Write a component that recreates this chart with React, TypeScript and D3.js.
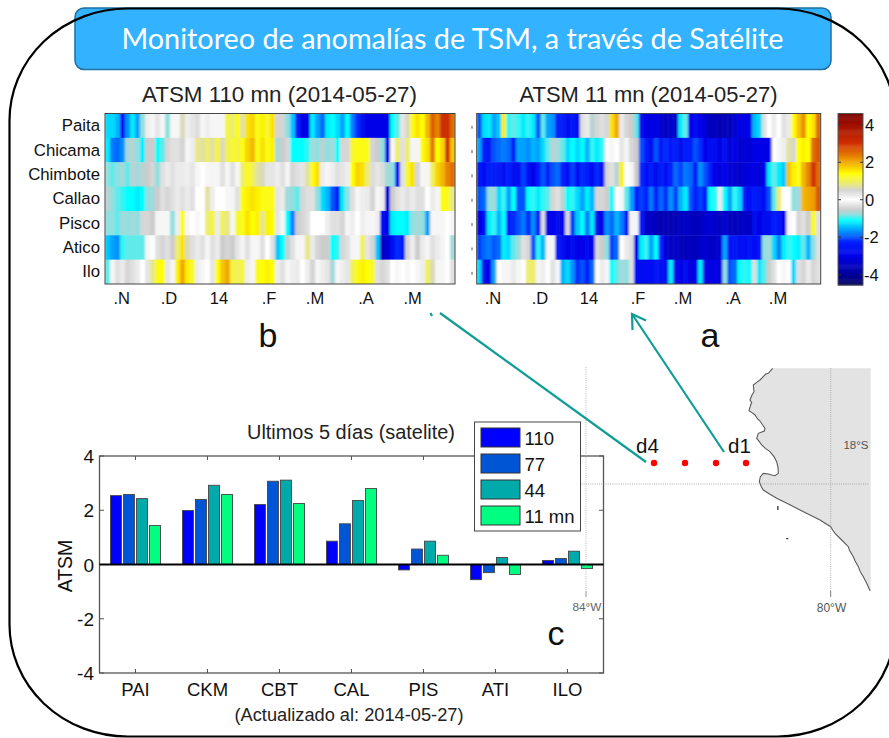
import React from "react";
import * as d3 from "d3";

const rowNames = ["Paita", "Chicama", "Chimbote", "Callao", "Pisco", "Atico", "Ilo"];
const monthLabels = [".N", ".D", "14", ".F", ".M", ".A", ".M"];
const monthPos110 = [121.7, 169, 219, 269, 315, 366, 412.7];
const monthPos11 = [493, 540, 589, 638, 683, 733, 778];

const paita110 = [-1.3,-1.3,-1.5,-2.6,-1.7,-1.2,-1.6,-0.8,0.2,0.1,0.3,0.1,-0.8,0.1,0.1,0.6,0.2,0.3,0.4,0.1,0.2,0.1,0.1,0.1,1.1,0.9,1.3,0.7,1.6,1.7,1.3,1.5,1.2,1.6,0.5,0.5,-0.8,-1.4,-2.3,-3.0,-3.0,-1.2,-1.6,-1.9,-1.2,-1.1,-1.3,-1.6,-1.1,-1.8,-2.2,-2.8,-3.0,-3.0,-3.0,-3.0,-3.0,-1.1,-0.9,0.3,0.6,1.3,1.6,1.4,1.9,2.6,2.3,3.1,3.1,2.5];
const chicama110 = [-1.2,-1.8,-1.9,-1.7,-0.7,-0.6,-0.8,-1.2,-0.5,-0.5,-1.1,-0.9,-0.4,-0.3,-0.3,0.5,0.1,0.2,0.8,0.7,0.9,0.7,1.1,0.6,1.0,1.2,1.1,1.3,1.7,1.9,1.3,1.6,1.3,1.5,-0.7,-0.5,-0.4,-1.1,-1.1,-1.1,-1.0,-0.7,-0.8,-0.6,-0.8,-0.7,-1.1,-0.4,-0.4,1.2,1.3,1.3,1.3,0.5,-0.5,-0.8,-2.8,0.1,0.9,-0.3,0.9,0.1,0.1,1.3,1.6,2.4,1.4,1.7,3.0,1.8];
const chimbote110 = [-0.8,-0.9,-0.8,-0.7,-0.9,-0.6,-0.7,-0.6,-0.5,-0.4,-0.8,-0.3,-0.2,-0.3,-0.2,-0.2,0.2,0.3,0.1,0.0,0.1,-0.1,0.1,-0.3,0.1,-0.3,0.1,0.9,1.3,1.0,0.7,0.6,0.3,0.3,0.2,-0.3,-0.1,-0.4,-0.3,0.3,0.7,1.3,1.6,0.2,0.1,0.2,-0.3,0.3,0.2,1.4,1.7,1.6,0.9,0.4,0.3,0.4,-0.7,-0.8,-2.4,-0.3,1.2,1.6,-0.4,0.1,0.1,1.0,1.7,1.9,2.3,2.5];
const callao110 = [-0.6,-0.8,-0.9,-1.0,-1.1,-1.1,-1.2,-1.1,-0.8,-0.7,-0.5,-0.3,-0.4,-0.3,-0.2,-0.3,-0.2,-0.3,0.0,0.0,0.7,0.2,0.0,0.0,0.1,-0.1,-0.3,1.3,1.5,1.6,1.5,1.3,1.3,1.3,0.3,-0.2,-0.7,-0.8,-0.9,-0.4,-0.3,-0.3,-0.8,-1.3,-1.5,-2.0,-2.3,-1.2,-0.8,-0.3,0.1,0.2,-0.2,0.5,0.1,0.2,-3.2,-0.5,-0.3,-0.2,-0.3,-0.2,-0.3,-0.3,0.0,-0.2,0.1,1.3,1.3,0.8];
const pisco110 = [-0.8,-0.8,-0.9,-0.7,-0.8,-0.7,-0.8,-0.4,-0.4,-0.5,-0.1,0.1,0.1,-0.8,0.2,1.3,0.1,0.0,0.1,0.0,0.9,1.1,-0.2,1.0,0.8,0.1,1.2,1.3,1.6,1.4,1.5,0.8,1.5,1.4,0.3,0.1,-1.1,-1.8,-0.5,-0.4,-0.3,0.0,0.0,0.0,0.2,-0.3,-0.3,-0.4,0.1,0.2,0.0,0.2,-0.1,0.1,0.2,-2.8,-3.0,-1.2,-1.1,-1.1,-1.2,-0.8,-0.7,-0.8,-1.6,0.1,-0.1,0.1,0.0,-0.1];
const atico110 = [-1.4,-1.6,-1.7,-1.0,-0.9,-0.9,-0.9,-0.9,0.1,0.0,-0.3,-0.4,-0.3,-0.5,0.9,1.6,0.6,-0.3,-0.2,-0.3,0.1,-0.3,-0.2,-0.5,-0.4,-0.5,0.3,-0.1,-0.3,0.1,0.1,-0.3,0.0,-0.3,-1.4,-1.1,-0.6,-0.3,0.1,0.1,0.8,-0.2,-0.4,-0.5,-0.5,-1.1,-1.0,-0.4,-0.3,-0.1,0.1,1.0,0.3,-0.4,-1.4,-3.5,-3.2,-2.6,-2.2,-2.3,-0.4,0.2,-0.5,-0.2,-0.1,-0.3,-0.2,-0.1,0.0,-0.7];
const ilo110 = [-0.9,-0.1,-0.3,-0.2,-0.4,-0.3,-0.2,0.0,0.3,0.8,1.3,1.4,0.3,0.1,1.5,2.0,1.5,1.2,0.2,0.1,0.0,0.3,1.4,1.8,2.0,1.1,1.0,1.1,0.2,0.1,1.3,1.4,1.5,1.4,0.2,-0.3,0.1,0.2,-0.2,0.0,0.2,0.5,0.1,0.2,0.3,-0.7,0.1,0.2,0.3,1.0,1.3,1.5,1.4,1.2,-0.3,-0.4,-0.3,0.0,0.1,0.0,0.1,0.0,0.1,0.2,1.0,0.6,0.1,0.1,0.0,-0.3];

const paita11 = [-2.0,-1.3,-1.2,-1.6,-1.4,1.5,-1.0,-0.9,-1.0,-1.2,-1.0,-1.2,-2.0,-0.9,-1.6,-1.7,-2.4,-2.3,-2.8,-2.5,-2.6,-0.3,-0.2,-0.6,-0.4,-0.3,-0.4,1.6,2.0,-0.2,-0.4,-0.5,-0.9,-2.8,-3.0,-3.1,-3.0,-3.3,-3.5,-3.4,-3.4,-1.2,-0.9,-3.0,-2.7,-3.0,-3.2,-3.6,-3.5,-3.7,-3.6,-3.6,-3.3,-3.1,-3.0,-3.0,-1.5,-1.3,-0.3,0.0,-0.2,0.0,-0.3,-0.2,1.4,1.8,2.2,1.4,1.6,2.5];
const chicama11 = [-1.6,-2.4,-2.5,-2.0,-1.9,-1.8,-1.9,-2.3,-1.6,-1.6,-1.7,-1.5,-1.6,-1.3,-0.9,-0.6,-0.7,-0.9,-1.3,-1.1,-1.3,-1.1,-1.5,-1.0,-1.2,-1.0,0.0,0.1,0.0,0.3,-0.1,-0.4,-0.5,-2.0,-2.3,-2.8,-2.0,-2.5,-2.2,-2.5,-2.4,-2.8,-2.3,-2.4,-2.0,-2.2,-2.9,-2.6,-2.8,-3.0,-2.7,-3.2,-3.0,-3.3,-3.2,-3.3,-3.0,-3.0,-3.0,-3.0,0.0,-0.1,0.2,0.7,-0.4,1.4,1.5,1.4,2.5,2.7];
const chimbote11 = [-2.5,-2.6,-2.4,-2.4,-2.5,-2.6,-2.3,-2.8,-2.8,-2.1,-2.7,-2.9,-2.4,-2.0,-2.3,-2.0,-1.9,-2.3,-2.6,-2.1,-2.7,-2.2,-2.4,-2.7,-2.2,-2.6,-0.4,-0.3,-0.6,1.5,0.0,0.1,-0.5,-2.2,-2.6,-2.4,-2.8,-2.4,-2.6,-2.3,-1.9,-2.1,-1.8,-1.9,-2.4,-1.7,-2.0,-2.4,-3.0,-3.1,-2.9,-3.2,-3.3,-3.4,-3.2,-3.1,-3.0,-3.2,-2.9,-1.2,-0.9,-1.2,-1.4,1.8,1.5,1.3,1.9,2.3,3.0,2.5];
const callao11 = [-2.0,-1.9,-0.8,-0.7,-1.3,-1.0,-1.6,-1.1,-2.0,-2.0,-1.1,-1.0,-1.2,-1.0,-0.9,-0.4,-0.3,-0.6,-1.1,-1.0,-1.3,-1.6,-1.2,-1.5,-0.4,-0.4,-0.5,-1.1,0.0,0.1,-0.9,-1.6,-2.4,-2.1,-2.3,-1.8,-2.3,-1.9,-2.2,-1.7,-2.1,-1.5,-1.2,-2.0,-2.3,-2.1,-2.4,-1.1,-1.0,-0.2,-1.1,-1.6,-1.0,-1.3,-2.4,-2.6,-2.3,-2.5,-2.6,-2.0,-0.9,0.9,0.0,0.0,-0.8,-0.7,1.9,2.0,2.1,2.7];
const pisco11 = [-2.9,-2.8,-1.2,-1.0,-1.5,-1.1,-2.3,-2.2,-2.0,-1.8,-2.2,-1.7,-2.4,-0.3,-3.0,-2.9,-2.8,-2.9,-0.4,-2.1,-1.4,-1.1,-1.8,-1.2,-2.8,-3.0,-1.7,-1.9,-1.5,-1.8,-2.4,-0.1,0.1,-2.4,-3.4,-3.4,-3.6,-3.7,-3.6,-3.7,-3.6,-3.5,-3.4,-3.5,-3.6,-3.5,-3.3,-3.2,-3.4,-3.5,-3.3,-3.5,-3.6,-3.5,-3.4,-3.5,-2.8,-2.9,-2.7,-2.8,-2.3,-2.5,-3.0,-0.1,0.0,-0.4,-0.3,-0.5,1.3,-0.3];
const atico11 = [-2.1,-1.9,-1.8,-2.0,-1.9,-1.2,-1.3,-0.9,-0.7,-0.3,-0.4,-2.0,-1.0,-1.5,0.1,0.1,-2.5,-2.8,-3.0,-2.7,-3.0,-2.9,-2.8,-3.0,-0.4,-0.5,-0.8,-2.1,-1.9,0.0,-0.2,-0.3,-3.0,-1.2,-1.0,-1.6,-1.1,-2.3,-3.2,-3.5,-3.4,-3.6,-3.6,-3.5,-3.6,-3.4,-3.3,-3.5,-3.4,-3.3,-1.6,-2.6,-2.5,-2.7,-2.6,-2.5,-2.6,-2.5,-0.8,-0.7,-1.3,-1.8,-1.2,-1.0,-1.1,-1.2,-0.9,-1.5,-0.8,-0.3];
const ilo11 = [-1.3,-2.8,-2.9,-1.6,0.0,0.1,-0.1,-0.2,0.1,0.0,0.9,0.9,-0.1,0.2,0.0,-0.3,0.1,-1.5,-1.3,-1.7,-2.2,-2.0,-2.4,-1.9,0.0,-0.2,0.1,-1.1,-0.9,-0.7,-0.8,-0.3,-2.6,-2.8,-2.6,-2.7,-2.5,-2.6,-2.8,-1.2,-2.9,-3.0,-2.7,-3.1,-2.9,-1.2,-3.0,-3.1,-3.0,-3.2,-0.8,-2.0,-1.9,-1.1,-1.0,-1.1,-0.3,-1.2,-0.9,-0.5,-0.3,0.0,0.1,0.0,-1.3,-0.3,-0.4,-0.2,-0.4,-0.3];

const heat110 = [paita110, chicama110, chimbote110, callao110, pisco110, atico110, ilo110];
const heat11 = [paita11, chicama11, chimbote11, callao11, pisco11, atico11, ilo11];

const colorStops = [-4.55, -4, -3, -2.25, -1.7, -1.1, -0.8, -0.5, 0, 0.5, 0.9, 1.4, 2, 3, 4, 4.6];
const colorValues = ["#000060", "#00009a", "#0000e8", "#0020ff", "#0090ff", "#00ffff", "#90e0e0", "#cccccc", "#ffffff", "#d4d4d4", "#eded70", "#ffff00", "#f0a800", "#d03000", "#a01000", "#7a0000"];
const barTicks = [4, 2, 0, -2, -4];
const colorbarTicks = [4, 2, 0, -2, -4];

const stations = ["PAI", "CKM", "CBT", "CAL", "PIS", "ATI", "ILO"];
const distances = ["110", "77", "44", "11 mn"];
const distanceColors = ["#0000ff", "#0055d5", "#00aaaa", "#00ff80"];
const v110 = [2.54, 1.99, 2.21, 0.86, -0.2, -0.56, 0.15];
const v77 = [2.58, 2.4, 3.07, 1.5, 0.57, -0.3, 0.22];
const v44 = [2.43, 2.92, 3.11, 2.36, 0.86, 0.26, 0.49];
const v11 = [1.44, 2.58, 2.25, 2.8, 0.34, -0.37, -0.15];
const barSeries = [v110, v77, v44, v11];

const coastLon = [518,505,497,480,470,460,462,456,450,455,452,447,456,465,473,480,488,495,493,475,470,478,485,497,510,522,530,534,535,525,515,505,490,481,478,484,490,510,530,565,600,630,660,692,698,705,725,745,748,760,765,775,781,790,800,810];
const coastLat = [55,70,72,90,97,105,125,135,150,158,165,182,188,195,207,213,225,235,243,250,265,275,285,296,305,320,335,352,370,377,375,372,370,380,395,410,420,433,445,462,480,495,510,530,540,550,570,590,600,620,632,650,665,680,700,722];
const dotLon = [654, 685, 716, 746];

const sans = "'Liberation Sans', Arial, sans-serif";
const colorOf = d3.scaleLinear<string>().domain(colorStops).range(colorValues).interpolate(d3.interpolateRgb).clamp(true);

function Heatmap({ data, x0, x1, y0, y1, clip }: any) {
  const rowScale = d3.scaleBand<number>().domain(d3.range(data.length)).range([y0, y1]);
  const colScale = d3.scaleBand<number>().domain(d3.range(data[0].length)).range([x0, x1]);
  return (
    <g>
      <clipPath id={clip}><rect x={x0} y={y0} width={x1 - x0} height={y1 - y0} /></clipPath>
      <g clipPath={`url(#${clip})`}>
        <g filter="url(#soft)">
          {data.map((row: number[], r: number) =>
            row.map((v, c) => (
              <rect key={`${r}-${c}`} x={colScale(c)} y={rowScale(r)} width={colScale.bandwidth() + 0.4} height={rowScale.bandwidth() + 0.4} fill={colorOf(v)} />
            ))
          )}
        </g>
      </g>
      <rect x={x0} y={y0} width={x1 - x0} height={y1 - y0} fill="none" stroke="#444" strokeWidth={1} />
    </g>
  );
}

export default function App() {
  const rowY = d3.scaleBand<number>().domain(d3.range(7)).range([113.5, 284]);
  const cbY = d3.scaleLinear().domain([4.6, -4.55]).range([113.5, 285]);
  const cbSteps = d3.range(-4.55, 4.6, 0.05);

  const barX = d3.scaleLinear().domain([0.5, 7.5]).range([99.5, 603.5]);
  const barY = d3.scaleLinear().domain([-4, 4]).range([673, 456]);
  const inner = d3.scaleBand<number>().domain([0, 1, 2, 3]).range([-25, 25]).paddingInner(0.16).paddingOuter(0);

  const ox = (z: number) => 600 + z / 3;
  const oy = (z: number) => 350 + z / 3;
  const coast = d3.line<number>().x((_, i) => ox(coastLon[i])).y((_, i) => oy(coastLat[i]))(coastLon as any) as string;
  const land = `${coast} L${ox(812)},${oy(722)} L${ox(812)},${oy(55)} Z`;

  return (
    <svg width={889} height={738} style={{ position: "absolute", left: 0, top: 0, background: "#fff" }} fontFamily={sans}>
      <defs>
        <filter id="soft" x="-2%" y="-2%" width="104%" height="104%">
          <feGaussianBlur stdDeviation="0.8 0.45" />
        </filter>
        <filter id="mapsoft"><feGaussianBlur stdDeviation="0.25" /></filter>
      </defs>

      {/* header */}
      <rect x={75} y={8} width={756} height={61.5} rx={9} fill="#33b3ff" stroke="#1f6f9f" strokeWidth={1.5} />
      <text x={452.5} y={49} textAnchor="middle" fill="#fff" fontFamily="Lato, sans-serif" fontSize={28.5} textLength={662} lengthAdjust="spacingAndGlyphs">Monitoreo de anomalías de TSM, a través de Satélite</text>

      {/* heatmaps */}
      <text x={279.5} y={102} textAnchor="middle" fontSize={22.2} textLength={275} lengthAdjust="spacingAndGlyphs" fill="#222">ATSM 110 mn (2014-05-27)</text>
      <text x={648.5} y={102} textAnchor="middle" fontSize={22.2} textLength={258} lengthAdjust="spacingAndGlyphs" fill="#222">ATSM 11 mn (2014-05-27)</text>
      <Heatmap data={heat110} x0={105} x1={455} y0={113.5} y1={284} clip="c110" />
      <Heatmap data={heat11} x0={476.7} x1={820.7} y0={113.5} y1={284} clip="c11" />
      {rowNames.map((n, i) => (
        <g key={n}>
          <text x={100} y={rowY(i)! + rowY.bandwidth() / 2 + 5.5} textAnchor="end" fontSize={16.8} fill="#111">{n}</text>
          <line x1={472} x2={472} y1={rowY(i)! + rowY.bandwidth() / 2} y2={rowY(i)! + rowY.bandwidth() / 2 + 3} stroke="#555" />
        </g>
      ))}
      {monthLabels.map((m, i) => (
        <g key={i} fontSize={16.5} fill="#111" textAnchor="middle">
          <text x={monthPos110[i]} y={303.5}>{m}</text>
          <text x={monthPos11[i]} y={303.5}>{m}</text>
        </g>
      ))}

      {/* colourbar */}
      {cbSteps.map((v, i) => (
        <rect key={i} x={838} y={cbY(v + 0.05)} width={25} height={cbY(v) - cbY(v + 0.05) + 0.5} fill={colorOf(v)} />
      ))}
      <rect x={838} y={113.5} width={25} height={171.5} fill="none" stroke="#555" />
      {colorbarTicks.map((t) => (
        <g key={t}>
          <line x1={838} x2={841} y1={cbY(t)} y2={cbY(t)} stroke="#333" />
          <line x1={860} x2={863} y1={cbY(t)} y2={cbY(t)} stroke="#333" />
          <text x={t < 0 ? 864 : 865} y={cbY(t) + 6} fontSize={16.5} fill="#111">{t}</text>
        </g>
      ))}

      {/* section letters */}
      <text x={268} y={347} textAnchor="middle" fontSize={34} fill="#111">b</text>
      <text x={710} y={347} textAnchor="middle" fontSize={34} fill="#111">a</text>
      <text x={556} y={645} textAnchor="middle" fontSize={34} fill="#111">c</text>

      {/* bar chart */}
      <text x={351} y={439} textAnchor="middle" fontSize={19.9} textLength={208} lengthAdjust="spacingAndGlyphs" fill="#222">Ultimos 5 días (satelite)</text>
      <rect x={99.5} y={456} width={504} height={217} fill="none" stroke="#555" strokeWidth={1.3} />
      {barTicks.map((t) => (
        <g key={t}>
          <line x1={99.5} x2={104} y1={barY(t)} y2={barY(t)} stroke="#555" />
          <line x1={599} x2={603.5} y1={barY(t)} y2={barY(t)} stroke="#555" />
          <text x={94} y={barY(t) + 7} textAnchor="end" fontSize={19} fill="#111">{t}</text>
        </g>
      ))}
      {stations.map((s, i) => (
        <g key={s}>
          <line x1={barX(i + 1)} x2={barX(i + 1)} y1={456} y2={460} stroke="#555" />
          <line x1={barX(i + 1)} x2={barX(i + 1)} y1={669} y2={673} stroke="#555" />
          <text x={barX(i + 1)} y={696} textAnchor="middle" fontSize={18.5} fill="#111">{s}</text>
          {barSeries.map((series, k) => {
            const v = series[i];
            return (
              <rect key={k} x={barX(i + 1) + inner(k)!} width={inner.bandwidth()} y={Math.min(barY(v), barY(0))} height={Math.abs(barY(v) - barY(0))} fill={distanceColors[k]} stroke="#444" strokeWidth={0.9} />
            );
          })}
        </g>
      ))}
      <line x1={99.5} x2={603.5} y1={barY(0)} y2={barY(0)} stroke="#000" strokeWidth={2} />
      <text transform={`translate(72,566) rotate(-90)`} textAnchor="middle" fontSize={19.5} fill="#111">ATSM</text>
      <text x={349} y={720.5} textAnchor="middle" fontSize={17.5} fill="#222" textLength={229} lengthAdjust="spacingAndGlyphs">(Actualizado al: 2014-05-27)</text>

      {/* map */}
      <g filter="url(#mapsoft)">
        <path d={land} fill="#e3e3e3" />
        <path d={coast} fill="none" stroke="#5a5a5a" strokeWidth={1.1} />
        <line x1={566} x2={869} y1={484} y2={484} stroke="#999" strokeWidth={0.8} strokeDasharray="1 1.2" />
        <line x1={830.7} x2={830.7} y1={368} y2={591} stroke="#999" strokeWidth={0.8} strokeDasharray="1 1.2" />
        <line x1={586} x2={586} y1={367} y2={591} stroke="#aaa" strokeWidth={0.8} strokeDasharray="1 1.2" />
        <line x1={830.7} x2={830.7} y1={591} y2={597} stroke="#555" strokeWidth={0.8} />
        <line x1={586} x2={586} y1={591} y2={597} stroke="#777" strokeWidth={0.8} />
        <rect x={777} y={506} width={1.6} height={4} fill="#555" />
        <rect x={786} y={538} width={2.4} height={1.2} fill="#444" />
      </g>
      <text x={587} y={611} textAnchor="middle" fontSize={11.8} fill="#666">84°W</text>
      <text x={831.5} y={612} textAnchor="middle" fontSize={12} fill="#555">80°W</text>
      <text x={856} y={449} textAnchor="middle" fontSize={11.5} fill="#555">18°S</text>
      <text x={636} y={453} fontSize={20.5} fill="#111">d4</text>
      <text x={728} y={453} fontSize={20.5} fill="#111">d1</text>
      {dotLon.map((x) => <circle key={x} cx={x} cy={463} r={3.2} fill="#ff0000" />)}

      {/* arrows */}
      <g stroke="#0f9d96" strokeWidth={2.2} fill="none">
        <line x1={724} y1={452} x2={632} y2={314} />
        <polyline points="632.5,330 632,314 646,320.5" />
        <line x1={646} y1={462} x2={440} y2={313} />
        <line x1={430.5} y1={313} x2={432} y2={316} />
      </g>

      {/* legend */}
      <rect x={474.5} y={422} width={106} height={109} fill="#fff" stroke="#444" strokeWidth={1} />
      {distances.map((d, i) => {
        const y = d3.scaleLinear().domain([0, 3]).range([428, 506])(i);
        return (
          <g key={d}>
            <rect x={481} y={y} width={39} height={19} fill={distanceColors[i]} stroke="#333" strokeWidth={1} />
            <text x={524.5} y={y + 16.5} fontSize={18.5} fill="#111">{d}</text>
          </g>
        );
      })}

      {/* frame */}
      <rect x={9.5} y={8.5} width={886} height={728} rx={118} ry={112} fill="none" stroke="#000" strokeWidth={2.2} />
    </svg>
  );
}
